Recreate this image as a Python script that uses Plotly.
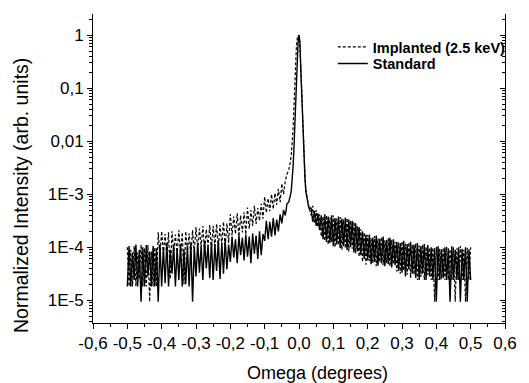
import numpy as np
import plotly.graph_objects as go

# ---- scan sampling (degrees): tails every 0.005, peak core every 0.0025 ----
TAIL_STEP = 0.005
CORE_STEP = 0.0025
LEFT_START, CORE_START, RIGHT_START = -0.500, -0.030, 0.035
N_TAIL, N_CORE = 94, 25

# ---- intensities, stored as 100*log10(normalized intensity) ----
std_left = [-474,-398,-474,-410,-462,-395,-474,-405,-503,-400,
            -474,-396,-455,-408,-474,-398,-474,-402,-503,-395,
            -474,-400,-468,-392,-474,-405,-450,-396,-474,-402,
            -462,-394,-474,-404,-470,-398,-474,-392,-503,-400,
            -455,-392,-448,-398,-462,-388,-440,-396,-458,-390,
            -462,-394,-445,-388,-460,-392,-450,-386,-442,-395,
            -428,-380,-420,-385,-430,-378,-415,-382,-425,-376,
            -418,-380,-430,-374,-412,-378,-422,-370,-415,-375,
            -388,-350,-385,-352,-380,-345,-378,-348,-370,-338,
            -355,-330,-340,-318]
std_core = [-315,-310,-302,-293,-275,-250,-218,-178,-135,-85,-40,-10,0,
            -12,-60,-110,-165,-210,-245,-272,-295,-306,-316,-322,-328]
std_right = [-325,-352,-332,-360,-336,-368,-340,-385,-338,-390,
             -342,-392,-340,-398,-345,-395,-342,-402,-346,-398,
             -344,-405,-348,-400,-350,-410,-355,-408,-362,-415,
             -370,-422,-376,-425,-376,-432,-382,-428,-378,-435,
             -384,-430,-380,-436,-386,-432,-382,-438,-385,-434,
             -390,-445,-392,-448,-388,-455,-394,-442,-390,-450,
             -395,-458,-392,-462,-398,-450,-394,-462,-396,-455,
             -400,-462,-402,-503,-398,-462,-404,-458,-400,-462,
             -402,-503,-398,-462,-405,-462,-400,-503,-403,-462,
             -400,-503,-404,-462]

imp_left = [-400,-474,-405,-474,-398,-474,-410,-460,-395,-474,
            -402,-474,-396,-503,-408,-474,-400,-474,-372,-415,
            -370,-412,-375,-417,-372,-460,-370,-410,-376,-414,
            -368,-415,-372,-470,-370,-408,-374,-416,-368,-410,
            -362,-405,-365,-400,-360,-408,-366,-398,-358,-404,
            -360,-398,-356,-402,-358,-395,-352,-400,-355,-392,
            -338,-378,-342,-375,-336,-380,-340,-372,-334,-376,
            -325,-365,-330,-360,-322,-356,-326,-350,-318,-346,
            -305,-335,-308,-332,-300,-328,-298,-320,-290,-315,
            -280,-300,-275,-262]
imp_core = [-255,-248,-238,-225,-207,-180,-140,-85,-45,-20,-6,0,-2,
            -15,-55,-105,-160,-205,-240,-268,-292,-303,-313,-320,-326]
imp_right = [-340,-322,-355,-330,-362,-338,-380,-342,-388,-340,
             -395,-344,-390,-340,-400,-346,-396,-343,-405,-348,
             -402,-345,-408,-350,-403,-352,-412,-360,-418,-366,
             -428,-372,-433,-377,-426,-383,-430,-379,-436,-383,
             -428,-381,-434,-387,-430,-383,-436,-386,-432,-390,
             -446,-391,-450,-389,-444,-393,-452,-391,-458,-395,
             -452,-393,-462,-397,-456,-395,-462,-399,-452,-401,
             -462,-401,-503,-399,-462,-403,-460,-401,-462,-399,
             -462,-404,-462,-400,-503,-402,-462,-398,-462,-405,
             -503,-401,-462,-400]

series_names = ["Implanted (2.5 keV)", "Standard"]
x_tick_vals = [-0.6, -0.5, -0.4, -0.3, -0.2, -0.1, 0.0, 0.1, 0.2, 0.3, 0.4, 0.5, 0.6]
x_tick_text = ["-0,6", "-0,5", "-0,4", "-0,3", "-0,2", "-0,1", "0,0",
               "0,1", "0,2", "0,3", "0,4", "0,5", "0,6"]
y_tick_vals = [1e-5, 1e-4, 1e-3, 1e-2, 1e-1, 1]
y_tick_text = ["1E-5", "1E-4", "1E-3", "0,01", "0,1", "1"]
x_title = "Omega (degrees)"
y_title = "Normalized Intensity (arb. units)"

omega = np.round(np.concatenate([
    LEFT_START + TAIL_STEP * np.arange(N_TAIL),
    CORE_START + CORE_STEP * np.arange(N_CORE),
    RIGHT_START + TAIL_STEP * np.arange(N_TAIL),
]), 4)
y_std = 10 ** (np.array(std_left + std_core + std_right) / 100.0)
y_imp = 10 ** (np.array(imp_left + imp_core + imp_right) / 100.0)

FONT = "Liberation Sans, Arial, sans-serif"
XRANGE = [-0.6, 0.6]
YRANGE = [-5.43, 0.40]

fig = go.Figure()
fig.add_trace(go.Scatter(x=omega, y=y_imp, mode="lines", name=series_names[0],
                         legend="legend",
                         line=dict(color="black", width=1.2, dash="3px,2px")))
fig.add_trace(go.Scatter(x=omega, y=y_std, mode="lines", name=series_names[1],
                         legend="legend2",
                         line=dict(color="black", width=1.4)))
# empty traces so that the extra tick axes get drawn
for xa, ya in [("x2", "y"), ("x", "y2"), ("x", "y3"), ("x", "y4")]:
    fig.add_trace(go.Scatter(x=[], y=[], xaxis=xa, yaxis=ya, showlegend=False, hoverinfo="skip"))

common = dict(showgrid=False, zeroline=False, tickcolor="black", tickwidth=1)
leg = dict(xanchor="left", yanchor="top", bgcolor="rgba(0,0,0,0)", borderwidth=0,
           font=dict(family=FONT, size=14.5, weight="bold", color="black"), itemwidth=30)

fig.update_layout(
    width=529, height=383,
    margin=dict(l=93, r=13, t=14, b=60),
    paper_bgcolor="white", plot_bgcolor="white",
    font=dict(family=FONT, color="black", size=17),
    showlegend=True,
    legend=dict(x=0.582, y=0.945, **leg),
    legend2=dict(x=0.582, y=0.8915, **leg),
    xaxis=dict(range=XRANGE, tickvals=x_tick_vals, ticktext=x_tick_text,
               ticks="outside", ticklen=5,
               showline=True, linecolor="black", linewidth=1, mirror=False,
               tickfont=dict(size=17), **common),
    xaxis2=dict(range=XRANGE, overlaying="x", side="bottom", anchor="y",
                tick0=0, dtick=0.05, ticks="outside", ticklen=3,
                showticklabels=False, showline=False, **common),
    yaxis=dict(type="log", range=YRANGE, tickvals=y_tick_vals, ticktext=y_tick_text,
               ticks="outside", ticklen=5,
               showline=True, linecolor="black", linewidth=1,
               tickfont=dict(size=17), **common),
    yaxis3=dict(type="log", range=YRANGE, overlaying="y", side="left", anchor="x",
                dtick="D1", ticks="outside", ticklen=3,
                showticklabels=False, showline=False, **common),
    yaxis2=dict(type="log", range=YRANGE, overlaying="y", side="right", anchor="x",
                tickvals=y_tick_vals, ticks="inside", ticklen=5,
                showticklabels=False, showline=True, linecolor="black", linewidth=1, **common),
    yaxis4=dict(type="log", range=YRANGE, overlaying="y", side="right", anchor="x",
                dtick="D1", ticks="inside", ticklen=3,
                showticklabels=False, showline=False, **common),
    annotations=[
        dict(text=x_title, xref="paper", yref="paper", x=0.545, y=-0.163,
             xanchor="center", yanchor="middle", showarrow=False,
             font=dict(family=FONT, size=18, color="black")),
        dict(text=y_title, xref="paper", yref="paper", x=-0.175, y=0.414,
             xanchor="center", yanchor="middle", showarrow=False, textangle=-90,
             font=dict(family=FONT, size=19.5, color="black")),
    ],
)

fig.write_html("out.html")
